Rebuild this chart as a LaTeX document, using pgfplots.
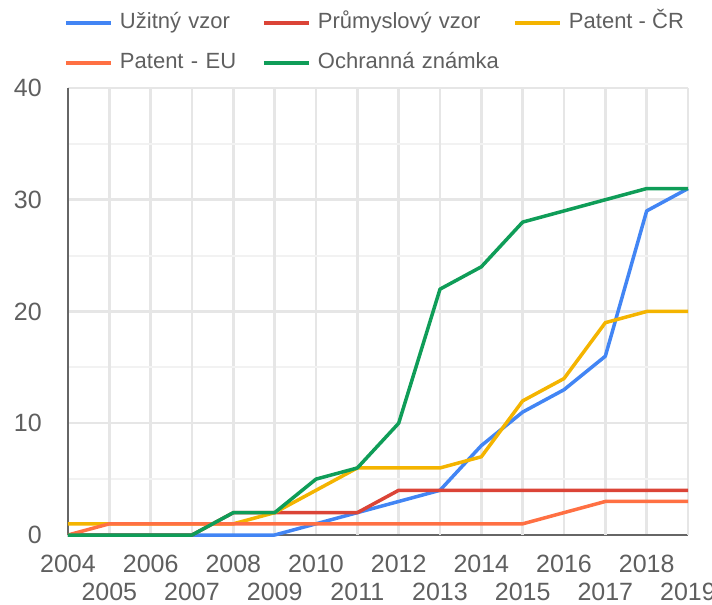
\documentclass[border=0pt]{standalone}
\usepackage{pgfplots}
\pgfplotsset{compat=1.18}
\usepackage{fontspec}
\setmainfont{Liberation Sans}
\definecolor{cBlue}{HTML}{4285F4}
\definecolor{cRed}{HTML}{DB4437}
\definecolor{cYellow}{HTML}{F4B400}
\definecolor{cOrange}{HTML}{FF7043}
\definecolor{cGreen}{HTML}{0F9D58}
\definecolor{cText}{HTML}{5F5F5F}
\definecolor{cAxis}{HTML}{666666}
\definecolor{cGrid}{HTML}{E6E6E6}
\definecolor{cMinor}{HTML}{F2F2F2}
\begin{document}
\begin{tikzpicture}
\begin{axis}[
  name=ax,
  scale only axis,
  width=620bp, height=447bp,
  xmin=2004, xmax=2019, ymin=0, ymax=40,
  clip=false,
  axis x line*=bottom, axis y line*=left,
  axis line style={cAxis, line width=2bp},
  major tick length=0pt, minor tick length=0pt,
  xtick={2004,2006,...,2018},
  extra x ticks={2005,2007,...,2019},
  extra x tick style={grid=major, tick label style={yshift=-28bp}},
  xticklabel style={/pgf/number format/1000 sep={}, inner sep=0pt, anchor=north, yshift=-20bp},
  ytick={0,10,20,30,40},
  minor y tick num=1,
  yticklabel style={inner sep=0pt, anchor=east, xshift=-26bp},
  /pgf/number format/assume math mode=true,
  tick label style={font=\fontsize{25bp}{28bp}\selectfont, text=cText},
  grid=both,
  major grid style={cGrid, line width=2.5bp},
  minor grid style={cMinor, line width=2bp},
  every axis plot/.append style={line width=3.5bp, line join=round},
  legend columns=3,
  legend image code/.code={\draw[#1, line width=4bp] (0bp,0bp) -- (45bp,0bp);},
  legend style={at={(axis description cs:0,1)}, anchor=north west, xshift=-4bp, yshift=75bp,
    draw=none, fill=none, inner sep=0pt, outer sep=0pt,
    font=\fontsize{22bp}{26bp}\selectfont, text=cText,
    nodes={inner sep=0pt, text height=16bp, text depth=5bp, anchor=west},
    row sep=19bp,
    /tikz/every odd column/.append style={column sep=7bp}},
]
\addplot[cBlue] coordinates {(2004,0)(2005,0)(2006,0)(2007,0)(2008,0)(2009,0)(2010,1)(2011,2)(2012,3)(2013,4)(2014,8)(2015,11)(2016,13)(2017,16)(2018,29)(2019,31)};
\addlegendentry[text width=142bp]{Užitný vzor}
\addplot[cRed] coordinates {(2004,0)(2005,0)(2006,0)(2007,0)(2008,2)(2009,2)(2010,2)(2011,2)(2012,4)(2013,4)(2014,4)(2015,4)(2016,4)(2017,4)(2018,4)(2019,4)};
\addlegendentry[text width=195bp]{Průmyslový vzor}
\addplot[cYellow] coordinates {(2004,1)(2005,1)(2006,1)(2007,1)(2008,1)(2009,2)(2010,4)(2011,6)(2012,6)(2013,6)(2014,7)(2015,12)(2016,14)(2017,19)(2018,20)(2019,20)};
\addlegendentry{Patent - ČR}
\addplot[cOrange] coordinates {(2004,0)(2005,1)(2006,1)(2007,1)(2008,1)(2009,1)(2010,1)(2011,1)(2012,1)(2013,1)(2014,1)(2015,1)(2016,2)(2017,3)(2018,3)(2019,3)};
\addlegendentry[text width=142bp]{Patent - EU}
\addplot[cGreen] coordinates {(2004,0)(2005,0)(2006,0)(2007,0)(2008,2)(2009,2)(2010,5)(2011,6)(2012,10)(2013,22)(2014,24)(2015,28)(2016,29)(2017,30)(2018,31)(2019,31)};
\addlegendentry[text width=195bp]{Ochranná známka}
\end{axis}
\pgfresetboundingbox
\path[use as bounding box] ([xshift=-68bp,yshift=-70bp]ax.south west) rectangle ([xshift=24bp,yshift=88bp]ax.north east);
\end{tikzpicture}
\end{document}
